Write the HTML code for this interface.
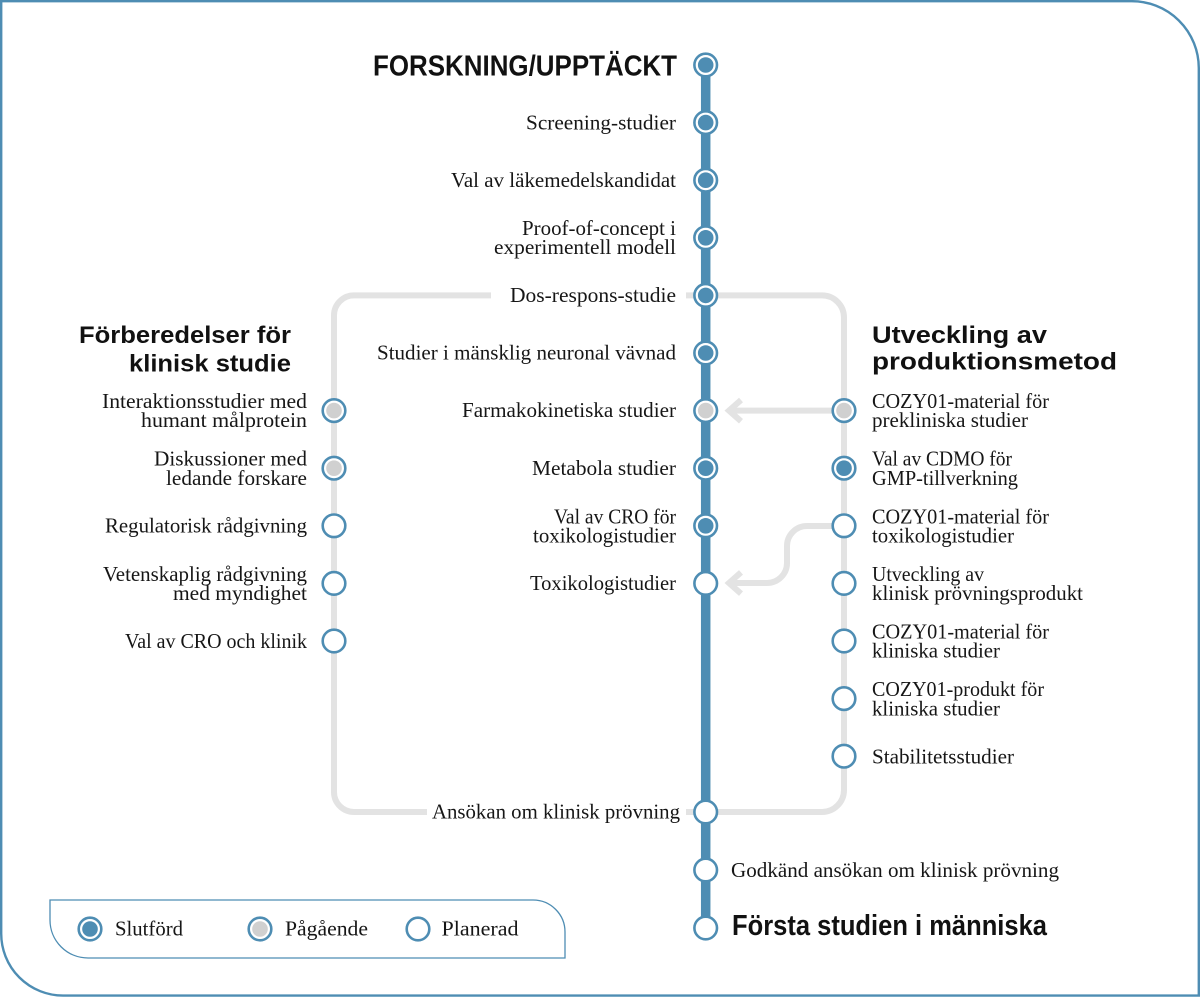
<!DOCTYPE html>
<html>
<head>
<meta charset="utf-8">
<style>
  html,body{margin:0;padding:0;background:#fff;}
  svg{display:block;}
  .s{font-family:"Liberation Serif",serif;font-size:21.5px;fill:#161616;}
  .h{font-family:"Liberation Sans",sans-serif;font-weight:bold;fill:#111;}
</style>
</head>
<body>
<svg width="1200" height="997" viewBox="0 0 1200 997" xmlns="http://www.w3.org/2000/svg">
  <!-- outer border -->
  <path d="M1.2,1.2 H1131 A67,67 0 0 1 1198.8,68 V995.6 H63 A62,62 0 0 1 1.2,933.6 Z" fill="#fff" stroke="#4e8db3" stroke-width="2.4"/>

  <!-- gray loops -->
  <g fill="none" stroke="#e3e3e3" stroke-width="6">
    <path d="M491,295.4 H354 A20,20 0 0 0 334,315.4 V792 A20,20 0 0 0 354,812 H427"/>
    <path d="M686,295.4 H822 A22,22 0 0 1 844,317.4 V790 A22,22 0 0 1 822,812 H686"/>
    <!-- arrows -->
    <path d="M844,410.6 H731"/>
    <polyline points="741,400 729,410.6 741,421.2" stroke-linejoin="miter" stroke-miterlimit="10"/>
    <path d="M844,526 H807 A20,20 0 0 0 787,546 V563 A20,20 0 0 1 767,583 H731"/>
    <polyline points="741,572.4 729,583 741,593.6" stroke-linejoin="miter" stroke-miterlimit="10"/>
  </g>

  <!-- main blue line -->
  <line x1="705.7" y1="65" x2="705.7" y2="928" stroke="#4e8db3" stroke-width="9.5"/>

  <!-- nodes -->
  <g stroke="#4e8db3" stroke-width="2.6" fill="#fff">
    <circle cx="705.7" cy="65" r="11.3"/>
    <circle cx="705.7" cy="122.6" r="11.3"/>
    <circle cx="705.7" cy="180.2" r="11.3"/>
    <circle cx="705.7" cy="237.8" r="11.3"/>
    <circle cx="705.7" cy="295.4" r="11.3"/>
    <circle cx="705.7" cy="353" r="11.3"/>
    <circle cx="705.7" cy="410.6" r="11.3"/>
    <circle cx="705.7" cy="468.2" r="11.3"/>
    <circle cx="705.7" cy="525.8" r="11.3"/>
    <circle cx="705.7" cy="583.4" r="11.3"/>
    <circle cx="705.7" cy="812" r="11.3"/>
    <circle cx="705.7" cy="870" r="11.3"/>
    <circle cx="705.7" cy="928" r="11.3"/>
    <circle cx="334" cy="410.6" r="11.3"/>
    <circle cx="334" cy="468.2" r="11.3"/>
    <circle cx="334" cy="525.8" r="11.3"/>
    <circle cx="334" cy="583.4" r="11.3"/>
    <circle cx="334" cy="641" r="11.3"/>
    <circle cx="844" cy="410.6" r="11.3"/>
    <circle cx="844" cy="468.2" r="11.3"/>
    <circle cx="844" cy="525.8" r="11.3"/>
    <circle cx="844" cy="583.4" r="11.3"/>
    <circle cx="844" cy="641" r="11.3"/>
    <circle cx="844" cy="698.6" r="11.3"/>
    <circle cx="844" cy="756.2" r="11.3"/>
    <circle cx="90" cy="929" r="11.3"/>
    <circle cx="260" cy="929" r="11.3"/>
    <circle cx="418" cy="929" r="11.3"/>
  </g>
  <g fill="#4e8db3">
    <circle cx="705.7" cy="65" r="7.8"/>
    <circle cx="705.7" cy="122.6" r="7.8"/>
    <circle cx="705.7" cy="180.2" r="7.8"/>
    <circle cx="705.7" cy="237.8" r="7.8"/>
    <circle cx="705.7" cy="295.4" r="7.8"/>
    <circle cx="705.7" cy="353" r="7.8"/>
    <circle cx="705.7" cy="468.2" r="7.8"/>
    <circle cx="705.7" cy="525.8" r="7.8"/>
    <circle cx="844" cy="468.2" r="7.8"/>
    <circle cx="90" cy="929" r="7.8"/>
  </g>
  <g fill="#d0d0d0">
    <circle cx="705.7" cy="410.6" r="7.8"/>
    <circle cx="334" cy="410.6" r="7.8"/>
    <circle cx="334" cy="468.2" r="7.8"/>
    <circle cx="844" cy="410.6" r="7.8"/>
    <circle cx="260" cy="929" r="7.8"/>
  </g>

  <!-- headings -->
  <text class="h" x="373" y="75.5" font-size="29" textLength="304" lengthAdjust="spacingAndGlyphs">FORSKNING/UPPTÄCKT</text>
  <text class="h" x="79" y="343" font-size="24.5" textLength="212" lengthAdjust="spacingAndGlyphs">Förberedelser för</text>
  <text class="h" x="129" y="371.5" font-size="24.5" textLength="162" lengthAdjust="spacingAndGlyphs">klinisk studie</text>
  <text class="h" x="872" y="343" font-size="24.5" textLength="175" lengthAdjust="spacingAndGlyphs">Utveckling av</text>
  <text class="h" x="872" y="369.5" font-size="24.5" textLength="245" lengthAdjust="spacingAndGlyphs">produktionsmetod</text>
  <text class="h" x="732" y="935" font-size="29" textLength="315" lengthAdjust="spacingAndGlyphs">Första studien i människa</text>

  <!-- main column labels -->
  <text class="s" x="526" y="129.3" textLength="150" lengthAdjust="spacingAndGlyphs">Screening-studier</text>
  <text class="s" x="451" y="186.9" textLength="225" lengthAdjust="spacingAndGlyphs">Val av läkemedelskandidat</text>
  <text class="s" x="522" y="235" textLength="154" lengthAdjust="spacingAndGlyphs">Proof-of-concept i</text>
  <text class="s" x="494" y="254" textLength="182" lengthAdjust="spacingAndGlyphs">experimentell modell</text>
  <text class="s" x="510" y="302" textLength="166" lengthAdjust="spacingAndGlyphs">Dos-respons-studie</text>
  <text class="s" x="377" y="359.6" textLength="299" lengthAdjust="spacingAndGlyphs">Studier i mänsklig neuronal vävnad</text>
  <text class="s" x="462" y="417.2" textLength="214" lengthAdjust="spacingAndGlyphs">Farmakokinetiska studier</text>
  <text class="s" x="532" y="474.8" textLength="144" lengthAdjust="spacingAndGlyphs">Metabola studier</text>
  <text class="s" x="554" y="523.3" textLength="122" lengthAdjust="spacingAndGlyphs">Val av CRO för</text>
  <text class="s" x="533" y="542.5" textLength="143" lengthAdjust="spacingAndGlyphs">toxikologistudier</text>
  <text class="s" x="530" y="590" textLength="146" lengthAdjust="spacingAndGlyphs">Toxikologistudier</text>
  <text class="s" x="432" y="818.6" textLength="248" lengthAdjust="spacingAndGlyphs">Ansökan om klinisk prövning</text>
  <text class="s" x="731" y="876.8" textLength="328" lengthAdjust="spacingAndGlyphs">Godkänd ansökan om klinisk prövning</text>

  <!-- left column labels -->
  <text class="s" x="102" y="408" textLength="205" lengthAdjust="spacingAndGlyphs">Interaktionsstudier med</text>
  <text class="s" x="141" y="427.2" textLength="166" lengthAdjust="spacingAndGlyphs">humant målprotein</text>
  <text class="s" x="154" y="465.7" textLength="153" lengthAdjust="spacingAndGlyphs">Diskussioner med</text>
  <text class="s" x="166" y="484.9" textLength="141" lengthAdjust="spacingAndGlyphs">ledande forskare</text>
  <text class="s" x="105" y="532.6" textLength="202" lengthAdjust="spacingAndGlyphs">Regulatorisk rådgivning</text>
  <text class="s" x="103" y="581" textLength="204" lengthAdjust="spacingAndGlyphs">Vetenskaplig rådgivning</text>
  <text class="s" x="173" y="600.2" textLength="134" lengthAdjust="spacingAndGlyphs">med myndighet</text>
  <text class="s" x="125" y="648" textLength="182" lengthAdjust="spacingAndGlyphs">Val av CRO och klinik</text>

  <!-- right column labels -->
  <text class="s" x="872" y="408" textLength="177" lengthAdjust="spacingAndGlyphs">COZY01-material för</text>
  <text class="s" x="872" y="427.2" textLength="156" lengthAdjust="spacingAndGlyphs">prekliniska studier</text>
  <text class="s" x="872" y="465.7" textLength="140" lengthAdjust="spacingAndGlyphs">Val av CDMO för</text>
  <text class="s" x="872" y="484.9" textLength="146" lengthAdjust="spacingAndGlyphs">GMP-tillverkning</text>
  <text class="s" x="872" y="523.3" textLength="177" lengthAdjust="spacingAndGlyphs">COZY01-material för</text>
  <text class="s" x="872" y="542.5" textLength="142" lengthAdjust="spacingAndGlyphs">toxikologistudier</text>
  <text class="s" x="872" y="581" textLength="112" lengthAdjust="spacingAndGlyphs">Utveckling av</text>
  <text class="s" x="872" y="600.2" textLength="211" lengthAdjust="spacingAndGlyphs">klinisk prövningsprodukt</text>
  <text class="s" x="872" y="638.5" textLength="177" lengthAdjust="spacingAndGlyphs">COZY01-material för</text>
  <text class="s" x="872" y="657.7" textLength="128" lengthAdjust="spacingAndGlyphs">kliniska studier</text>
  <text class="s" x="872" y="696.1" textLength="172" lengthAdjust="spacingAndGlyphs">COZY01-produkt för</text>
  <text class="s" x="872" y="715.3" textLength="128" lengthAdjust="spacingAndGlyphs">kliniska studier</text>
  <text class="s" x="872" y="763.4" textLength="142" lengthAdjust="spacingAndGlyphs">Stabilitetsstudier</text>

  <!-- legend -->
  <path d="M50,900 H533 A32,32 0 0 1 565,932 V958 H88 A38,38 0 0 1 50,920 Z" fill="none" stroke="#4e8db3" stroke-width="1.3"/>
  <text class="s" x="115" y="935.5" textLength="68" lengthAdjust="spacingAndGlyphs">Slutförd</text>
  <text class="s" x="285" y="935.5" textLength="83" lengthAdjust="spacingAndGlyphs">Pågående</text>
  <text class="s" x="441.5" y="935.5" textLength="77" lengthAdjust="spacingAndGlyphs">Planerad</text>
</svg>
</body>
</html>
